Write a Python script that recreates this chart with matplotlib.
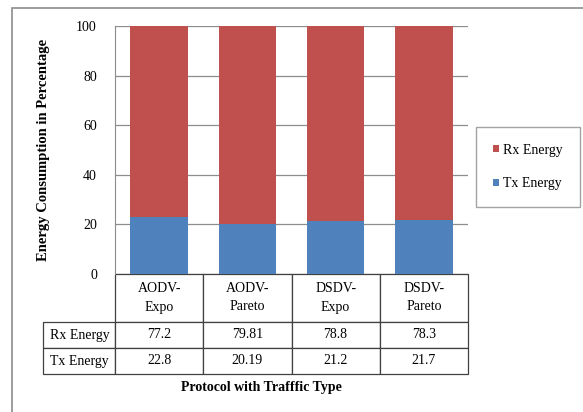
import matplotlib
matplotlib.use("Agg")
import matplotlib.pyplot as plt
from matplotlib.patches import Rectangle
import numpy as np

categories = ["AODV-\nExpo", "AODV-\nPareto", "DSDV-\nExpo", "DSDV-\nPareto"]
rx_energy = [77.2, 79.81, 78.8, 78.3]
tx_energy = [22.8, 20.19, 21.2, 21.7]
rx_text = ["77.2", "79.81", "78.8", "78.3"]
tx_text = ["22.8", "20.19", "21.2", "21.7"]
yticks = [0, 20, 40, 60, 80, 100]

plt.rcParams["font.family"] = ["Liberation Serif", "DejaVu Serif"]

W, H = 583, 412
fig = plt.figure(figsize=(W / 100, H / 100), dpi=100)

def fx(px):
    return px / W

def fy(py):
    return 1 - py / H

# outer chart frame (only top and left edges visible)
fig.patches.append(Rectangle((fx(12), -0.2), 1.2, fy(8) + 0.2, transform=fig.transFigure,
                             fill=False, edgecolor="#8c8c8c", linewidth=1.2, clip_on=False))

ax = fig.add_axes([fx(115), fy(274), fx(468) - fx(115), fy(26) - fy(274)])

red = "#C0504D"
blue = "#4F81BD"
x = np.arange(len(categories))
ax.bar(x, tx_energy, width=0.65, color=blue, label="Tx Energy", zorder=3)
ax.bar(x, rx_energy, width=0.65, bottom=tx_energy, color=red, label="Rx Energy", zorder=3)

ax.set_xlim(-0.5, len(categories) - 0.5)
ax.set_ylim(0, 100)
ax.set_yticks(yticks)
ax.set_xticks([])
ax.tick_params(axis="y", length=0, pad=13, labelsize=10)
ax.yaxis.grid(True, color="#8c8c8c", linewidth=0.9, zorder=0)
for s in ["top", "right", "bottom"]:
    ax.spines[s].set_visible(False)
ax.spines["left"].set_color("#8c8c8c")
ax.spines["left"].set_zorder(4)

tbl = ax.table(cellText=[rx_text, tx_text], rowLabels=["Rx Energy", "Tx Energy"],
               colLabels=categories, cellLoc="center", rowLoc="left", colLoc="center",
               loc="bottom")
tbl.auto_set_font_size(False)
tbl.set_fontsize(10)
ax_h = 274 - 26
for (r, c), cell in tbl.get_celld().items():
    cell.set_edgecolor("#404040")
    cell.set_linewidth(0.9)
    if c == -1:
        cell.set_width(75 / 353)
    else:
        cell.set_width(0.25)
    if r == 0:
        cell.set_height(48 / ax_h)
        cell.get_text().set_linespacing(1.5)
    else:
        cell.set_height(26 / ax_h)

fig.text(fx(44), fy(150), "Energy Consumption in Percentage", rotation=90,
         ha="center", va="center", fontsize=10.5, fontweight="bold")

fig.text(fx(261), fy(388), "Protocol with Trafffic Type", ha="center", va="center",
         fontsize=10, fontweight="bold")

handles, labels = ax.get_legend_handles_labels()
leg = fig.legend(handles[::-1], labels[::-1], loc="center", fontsize=10,
                 bbox_to_anchor=(fx(528), fy(167)), frameon=True, fancybox=False,
                 edgecolor="#8c8c8c", handlelength=0.45, handleheight=0.45,
                 handletextpad=0.3, labelspacing=1.5, borderpad=1.2)
leg.get_frame().set_linewidth(1.0)

fig.savefig("out.png", dpi=100)
